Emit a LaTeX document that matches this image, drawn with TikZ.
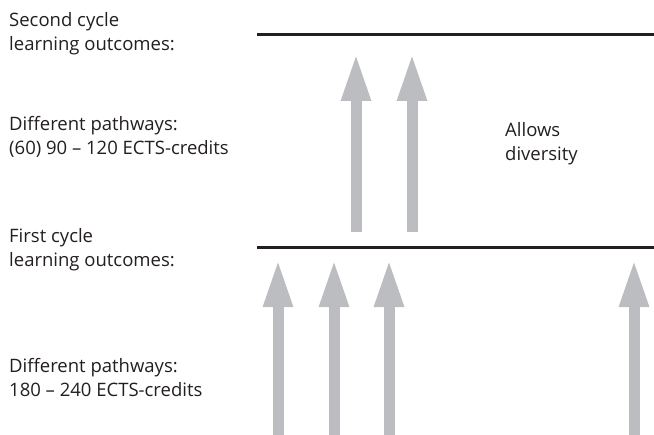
\documentclass[tikz,border=0pt]{standalone}
\usepackage{fontspec}
\setmainfont{Open Sans}
\usetikzlibrary{arrows.meta}
\definecolor{ink}{HTML}{231F20}
\definecolor{arrowgray}{HTML}{BCBDC0}
\tikzset{
  lbl/.style={anchor=base west, inner sep=0pt, align=left, text=ink,
    font=\fontsize{18.5bp}{24bp}\selectfont},
  level/.style={draw=ink, line width=3bp},
  uparrow/.style={draw=arrowgray, line width=11bp,
    -{Triangle[length=48bp,width=27bp]}},
}
\begin{document}
\begin{tikzpicture}[x=1bp,y=-1bp]
\useasboundingbox (0,0) rectangle (654,435);
% labels (anchor = baseline of last line)
\node[lbl] (sec) at (9,51) {Second cycle\\learning outcomes:};
\node[lbl] (p2) at (9,155) {Different pathways:\\(60) 90 -- 120 ECTS-credits};
\node[lbl] (fir) at (9,267) {First cycle\\learning outcomes:};
\node[lbl] (p1) at (9,396) {Different pathways:\\180 -- 240 ECTS-credits};
\node[lbl] (div) at (505,161) {Allows\\diversity};
% levels
\coordinate (t0) at (257,35);
\coordinate (t1) at (654,35);
\coordinate (b0) at (257,248);
\coordinate (b1) at (654,248);
\draw[level] (t0) -- (t1);
\draw[level] (b0) -- (b1);
% upper arrows
\coordinate (ua1) at (356,232); \coordinate (ua1t) at (356,53);
\coordinate (ua2) at (412,232); \coordinate (ua2t) at (412,53);
\draw[uparrow] (ua1) -- (ua1t);
\draw[uparrow] (ua2) -- (ua2t);
% lower arrows
\foreach \i/\x in {1/278,2/334,3/389,4/634}{
  \coordinate (la\i) at (\x,436);
  \coordinate (la\i t) at (\x,259);
  \draw[uparrow] (la\i) -- (la\i t);
}
\end{tikzpicture}
\end{document}
